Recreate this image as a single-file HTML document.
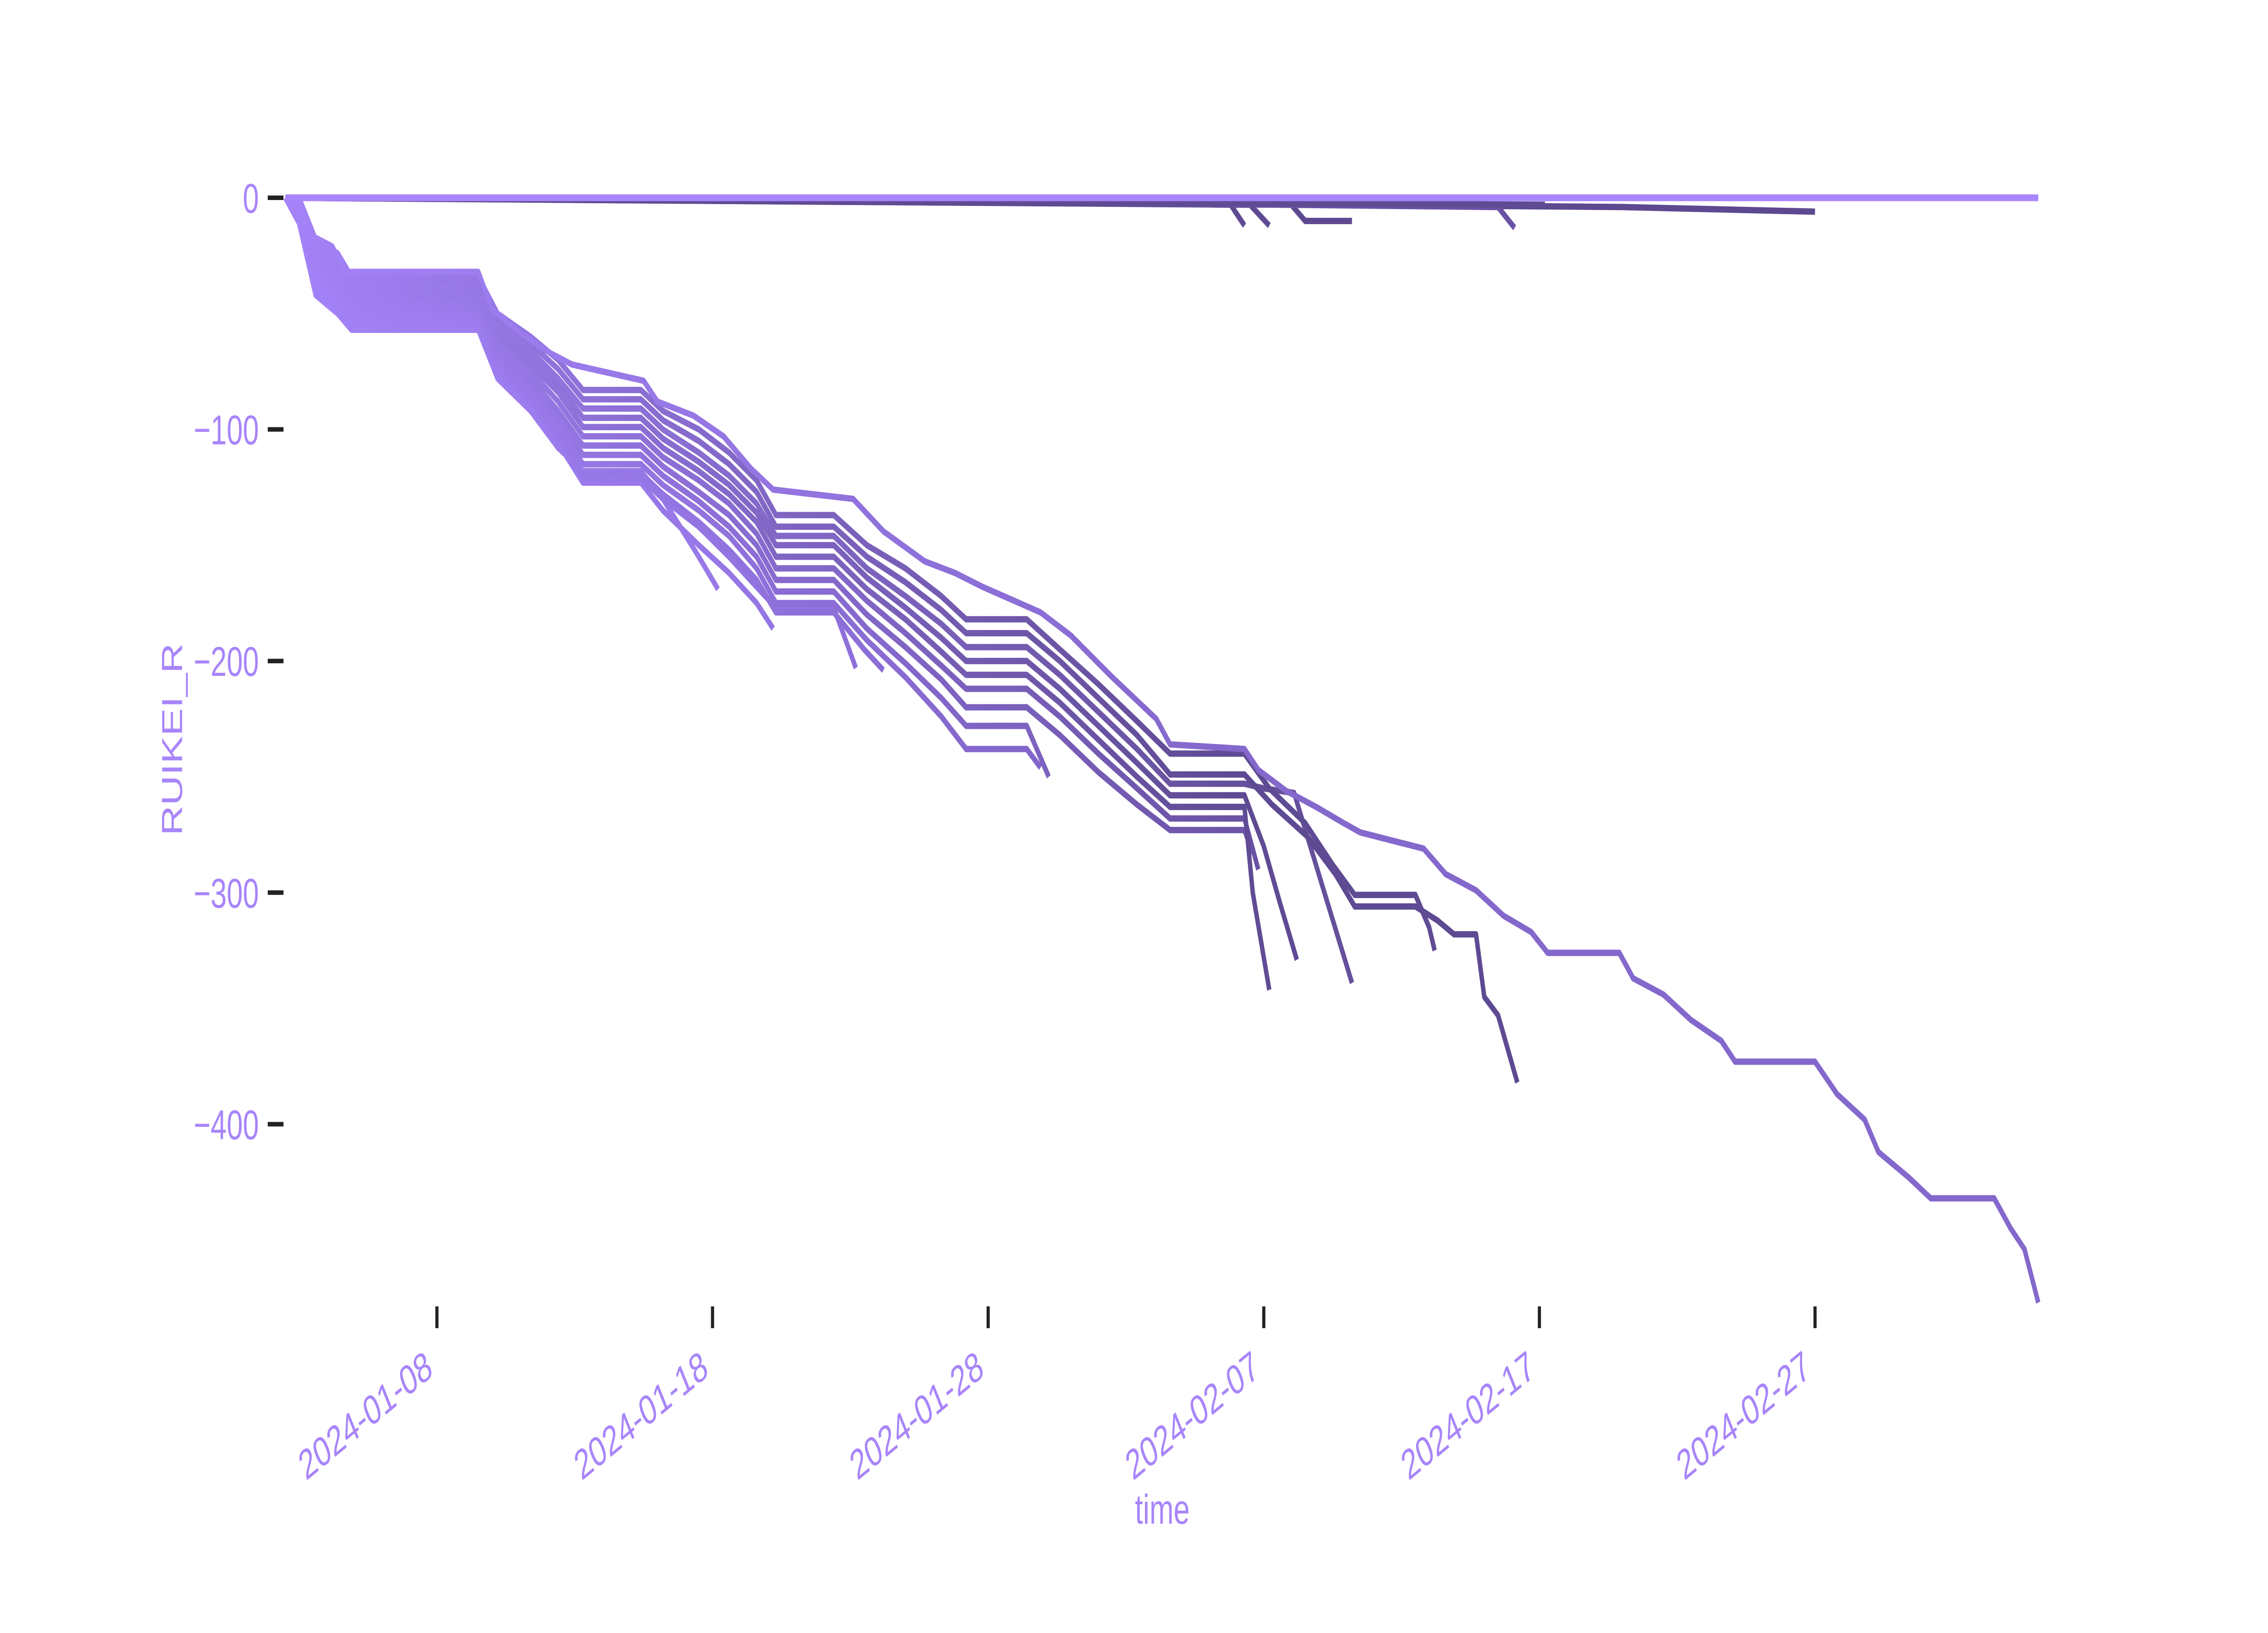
<!DOCTYPE html>
<html>
<head>
<meta charset="utf-8">
<style>
  html, body { margin: 0; padding: 0; background: #ffffff; width: 100%; height: 100%; overflow: hidden; }
  svg { display: block; width: 100vw; height: 100vh; }
  text { font-family: "Liberation Sans", "DejaVu Sans", sans-serif; fill: #a885fa; }
</style>
</head>
<body>
<svg id="chart" viewBox="0 0 7200 3600" preserveAspectRatio="none" xmlns="http://www.w3.org/2000/svg">
  <defs id="grads"></defs>
  <g id="series-layer"></g>
  <g id="zero-layer"></g>
  <g id="y-axis"></g>
  <g id="x-axis"></g>
  <text x="3690" y="3359" font-size="92" text-anchor="middle">time</text>
  <text x="0" y="0" font-size="92" text-anchor="middle" transform="translate(578,1630) rotate(-90)">RUIKEI_R</text>
</svg>
<script>
// ---- data (day offset from 2024-01-01, cumulative value) ----
const yTicks = [0, -100, -200, -300, -400];
const yTickLabels = ["0", "\u2212100", "\u2212200", "\u2212300", "\u2212400"];
const xTickDays = [7, 17, 27, 37, 47, 57];
const xTickLabels = ["2024-01-08", "2024-01-18", "2024-01-28", "2024-02-07", "2024-02-17", "2024-02-27"];

const zeroDays = [1.5, 65.1];
const zeroVals = [0, 0];

const mainDays = [1.5,1.9,2.4,3.2,3.7,8.5,9.0,10.0,11.1,11.9,14.5,15.0,16.3,17.4,18.4,19.2,22.1,23.2,24.7,25.8,26.8,28.9,30.0,31.5,33.1,33.6,36.3,36.8,37.8,38.9,39.9,40.5,42.8,43.6,44.7,45.7,46.7,47.3,49.9,50.4,51.5,52.5,53.6,54.1,57.0,57.8,58.8,59.3,60.4,61.2,63.5,64.1,64.6,65.1];
const mainVals = [0,0,-16,-21,-32,-32,-48,-58,-67,-72,-79,-88,-94,-103,-117,-126,-130,-144,-157,-162,-168,-179,-189,-207,-225,-236,-238,-247,-256,-263,-270,-274,-281,-292,-299,-310,-317,-326,-326,-337,-344,-355,-364,-373,-373,-387,-398,-412,-423,-432,-432,-445,-454,-477];

const plateauDays = [1.5,2.0,2.6,3.4,3.9,8.5,9.2,10.4,11.4,12.3,14.4,15.2,16.5,17.6,18.6,19.3,21.4,22.6,24.0,25.3,26.2,28.4,29.6,31.0,32.4,33.6,36.3];

const s2Vals = [0,0,-18,-24,-34,-34,-50,-60,-70,-83,-83,-92,-100,-110,-122,-137,-137,-150,-160,-172,-182,-182,-195,-210,-226,-240,-240];
const s2TailDays = [37.2,38.5,39.5,40.3,42.5,43.0,43.2];
const s2TailVals = [-255,-270,-288,-301,-301,-315,-325];

const s3Vals = [0,0,-20,-27,-36,-36,-53,-63,-74,-87,-87,-96,-105,-115,-127,-142,-142,-155,-166,-178,-188,-188,-200,-216,-232,-249,-249];
const s3TailDays = [37.3,38.6,39.6,40.3,42.5,43.3,43.9,44.7,45.0,45.5,46.2];
const s3TailVals = [-262,-276,-292,-306,-306,-312,-318,-318,-345,-353,-382];

const s4Vals = [0,0,-22,-30,-38,-38,-56,-66,-78,-91,-91,-100,-110,-120,-132,-146,-146,-160,-172,-184,-194,-194,-206,-222,-238,-253,-253];
const s4TailDays = [37.0,38.1,39.2,40.2];
const s4TailVals = [-255,-257,-300,-339];

const s5Vals = [0,-2,-24,-32,-40,-40,-58,-69,-81,-95,-95,-104,-114,-124,-136,-150,-150,-164,-177,-190,-200,-200,-212,-228,-244,-258,-258];
const s5TailDays = [37.0,37.6,38.2];
const s5TailVals = [-280,-305,-329];

const s6Vals = [0,-3,-26,-34,-42,-42,-60,-72,-84,-99,-99,-108,-118,-128,-140,-155,-155,-169,-182,-196,-206,-206,-218,-234,-250,-263,-263];
const s6TailDays = [36.6,37.2];
const s6TailVals = [-300,-342];

const s7Vals = [0,-4,-28,-36,-44,-44,-63,-75,-88,-103,-103,-112,-122,-132,-145,-160,-160,-174,-188,-202,-212,-212,-224,-240,-255,-268,-268];
const s7TailDays = [36.8];
const s7TailVals = [-290];

const s8Vals = [0,-5,-30,-38,-46,-46,-66,-78,-92,-107,-107,-116,-127,-137,-150,-165,-165,-180,-194,-208,-220,-220,-232,-248,-262,-273,-273];
const s8TailDays = [36.6];
const s8TailVals = [-283];

const s9Vals = [0,-6,-32,-40,-48,-48,-68,-81,-95,-111,-111,-120,-131,-142,-155,-170,-170,-186,-201,-216,-228,-228];
const s9TailDays = [29.2];
const s9TailVals = [-250];

const s10Vals = [0,-7,-34,-42,-50,-50,-70,-84,-98,-115,-115,-124,-135,-146,-160,-175,-175,-191,-207,-224,-238,-238];
const s10TailDays = [28.9];
const s10TailVals = [-246];

const s11Vals = [0,-8,-36,-44,-52,-52,-72,-86,-101,-119,-119,-128,-140,-152,-165,-179,-179];
const s11TailDays = [22.5,23.2];
const s11TailVals = [-195,-204];

const s12Vals = [0,-9,-38,-46,-54,-54,-74,-88,-104,-121,-121,-130,-142,-155,-168,-177,-177];
const s12TailDays = [22.2];
const s12TailVals = [-203];

const s13Vals = [0,-10,-40,-48,-56,-56,-76,-90,-106,-123,-123,-135,-150,-162,-175];
const s13TailDays = [19.2];
const s13TailVals = [-186];

const s14Vals = [0,-11,-42,-50,-57,-57,-78,-92,-108,-118,-118,-130];
const s14TailDays = [16.5,17.2];
const s14TailVals = [-155,-169];

const z1Days = [1.5,15,30,40,50,57.0];
const z1Vals = [0,-1,-2,-3,-4,-6];
const z2Days = [1.5,20,31,35.8,36.3];
const z2Vals = [0,-1,-2,-3,-12];
const z3Days = [1.5,25,36.5,37.2];
const z3Vals = [0,-2,-3,-12];
const z4Days = [1.5,25,38.0,38.5,40.2];
const z4Vals = [0,-2,-3,-10,-10];
const z5Days = [1.5,30,45.5,46.1];
const z5Vals = [0,-2,-4,-13];
const z6Days = [1.5,30,47.2];
const z6Vals = [0,-2,-3];

// ---- scales ----
const X0 = 1387, PX_PER_DAY = 87.5, DAY0 = 7;
const Y0 = 436, PX_PER_UNIT = 5.106;
function xScale(d) { return X0 + (d - DAY0) * PX_PER_DAY; }
function yScale(v) { return Y0 - v * PX_PER_UNIT; }

const NS = "http://www.w3.org/2000/svg";
const svg = document.getElementById("chart");
const defs = document.getElementById("grads");
const layer = document.getElementById("series-layer");

let gid = 0;
function drawSeries(days, vals, color, name, gradient) {
  const pts = [];
  for (let i = 0; i < days.length && i < vals.length; i++) {
    pts.push(xScale(days[i]).toFixed(1) + "," + yScale(vals[i]).toFixed(1));
  }
  const pl = document.createElementNS(NS, "polyline");
  pl.setAttribute("points", pts.join(" "));
  pl.setAttribute("fill", "none");
  pl.setAttribute("stroke-width", "14");
  pl.setAttribute("stroke-linejoin", "round");
  if (gradient) {
    const g = document.createElementNS(NS, "linearGradient");
    const id = "g" + (gid++);
    g.setAttribute("id", id);
    g.setAttribute("gradientUnits", "userSpaceOnUse");
    g.setAttribute("x1", "905"); g.setAttribute("y1", "0");
    g.setAttribute("x2", "3900"); g.setAttribute("y2", "0");
    const a = document.createElementNS(NS, "stop");
    a.setAttribute("offset", "0"); a.setAttribute("stop-color", "#a482f8");
    const b = document.createElementNS(NS, "stop");
    b.setAttribute("offset", "1"); b.setAttribute("stop-color", color);
    g.appendChild(a); g.appendChild(b);
    defs.appendChild(g);
    pl.setAttribute("stroke", "url(#" + id + ")");
  } else {
    pl.setAttribute("stroke", color);
  }
  
  
  layer.appendChild(pl);
}

const series = [
  [plateauDays.slice(0, s14Vals.length).concat(s14TailDays), s14Vals.concat(s14TailVals), "#8b6dd6", "series-14"],
  [plateauDays.slice(0, s13Vals.length).concat(s13TailDays), s13Vals.concat(s13TailVals), "#876ad2", "series-13"],
  [plateauDays.slice(0, s12Vals.length).concat(s12TailDays), s12Vals.concat(s12TailVals), "#8064c8", "series-12"],
  [plateauDays.slice(0, s11Vals.length).concat(s11TailDays), s11Vals.concat(s11TailVals), "#7c61c2", "series-11"],
  [plateauDays.slice(0, s10Vals.length).concat(s10TailDays), s10Vals.concat(s10TailVals), "#7a5fbd", "series-10"],
  [plateauDays.slice(0, s9Vals.length).concat(s9TailDays), s9Vals.concat(s9TailVals), "#7359b2", "series-9"],
  [plateauDays.slice(0, s8Vals.length).concat(s8TailDays), s8Vals.concat(s8TailVals), "#6d55a9", "series-8"],
  [plateauDays.slice(0, s7Vals.length).concat(s7TailDays), s7Vals.concat(s7TailVals), "#6a53a5", "series-7"],
  [plateauDays.slice(0, s6Vals.length).concat(s6TailDays), s6Vals.concat(s6TailVals), "#604c95", "series-6"],
  [plateauDays.slice(0, s5Vals.length).concat(s5TailDays), s5Vals.concat(s5TailVals), "#5f4b94", "series-5"],
  [plateauDays.slice(0, s4Vals.length).concat(s4TailDays), s4Vals.concat(s4TailVals), "#65509c", "series-4"],
  [plateauDays.slice(0, s3Vals.length).concat(s3TailDays), s3Vals.concat(s3TailVals), "#5e4a92", "series-3"],
  [plateauDays.slice(0, s2Vals.length).concat(s2TailDays), s2Vals.concat(s2TailVals), "#5f4b93", "series-2"],
  [mainDays, mainVals, "#8468cc", "series-main"]
];
series.forEach(s => drawSeries(s[0], s[1], s[2], s[3], true));

drawSeries(z1Days, z1Vals, "#5d4990", "near-zero-series-1", false);
drawSeries(z2Days, z2Vals, "#5f4b93", "near-zero-series-2", false);
drawSeries(z3Days, z3Vals, "#5f4b93", "near-zero-series-3", false);
drawSeries(z4Days, z4Vals, "#5d4990", "near-zero-series-4", false);
drawSeries(z5Days, z5Vals, "#6a53a5", "near-zero-series-5", false);
drawSeries(z6Days, z6Vals, "#5f4b93", "near-zero-series-6", false);

(function () {
  const zl = document.createElementNS(NS, "line");
  zl.setAttribute("x1", xScale(zeroDays[0]));
  zl.setAttribute("x2", xScale(zeroDays[1]));
  zl.setAttribute("y1", yScale(zeroVals[0]));
  zl.setAttribute("y2", yScale(zeroVals[1]));
  zl.setAttribute("stroke", "#a985fd");
  zl.setAttribute("stroke-width", "15");
  
  
  document.getElementById("zero-layer").appendChild(zl);
})();

const yAxis = document.getElementById("y-axis");
yTicks.forEach((v, i) => {
  const y = yScale(v);
  const t = document.createElementNS(NS, "line");
  t.setAttribute("x1", "850"); t.setAttribute("x2", "900");
  t.setAttribute("y1", y); t.setAttribute("y2", y);
  t.setAttribute("stroke", "#222222"); t.setAttribute("stroke-width", "10");
  
  
  yAxis.appendChild(t);
  const lb = document.createElementNS(NS, "text");
  lb.setAttribute("x", "822");
  lb.setAttribute("y", y + 33);
  lb.setAttribute("font-size", "92");
  lb.setAttribute("text-anchor", "end");
  lb.textContent = yTickLabels[i];
  
  
  yAxis.appendChild(lb);
});

const xAxis = document.getElementById("x-axis");
xTickDays.forEach((d, i) => {
  const x = xScale(d);
  const t = document.createElementNS(NS, "line");
  t.setAttribute("x1", x); t.setAttribute("x2", x);
  t.setAttribute("y1", "2880"); t.setAttribute("y2", "2928");
  t.setAttribute("stroke", "#222222"); t.setAttribute("stroke-width", "10");
  
  
  xAxis.appendChild(t);
  const lb = document.createElementNS(NS, "text");
  const ax = x - 8, ay = 3030;
  lb.setAttribute("x", ax);
  lb.setAttribute("y", ay);
  lb.setAttribute("font-size", "92");
  lb.setAttribute("text-anchor", "end");
  lb.setAttribute("transform", "rotate(-30 " + ax + " " + ay + ")");
  lb.textContent = xTickLabels[i];
  
  
  xAxis.appendChild(lb);
});
</script>
</body>
</html>
